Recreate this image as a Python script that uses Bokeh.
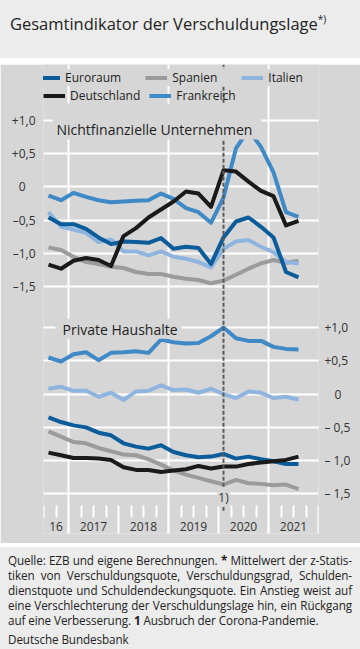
from bokeh.plotting import figure
from bokeh.models import (Range1d, LinearAxis, FixedTicker, Grid, Legend, LegendItem,
                          Label, Div)
from bokeh.layouts import column
from bokeh.embed import file_html
from bokeh.resources import INLINE

# ---------------- data ----------------
quarters = ["2016-Q3", "2016-Q4",
            "2017-Q1", "2017-Q2", "2017-Q3", "2017-Q4",
            "2018-Q1", "2018-Q2", "2018-Q3", "2018-Q4",
            "2019-Q1", "2019-Q2", "2019-Q3", "2019-Q4",
            "2020-Q1", "2020-Q2", "2020-Q3", "2020-Q4",
            "2021-Q1", "2021-Q2", "2021-Q3"]

# Nichtfinanzielle Unternehmen
nfc_euroraum = [-0.46, -0.56, -0.56, -0.63, -0.76, -0.86, -0.82, -0.83, -0.84, -0.77, -0.93,
                -0.90, -0.92, -1.16, -0.76, -0.52, -0.46, -0.60, -0.76, -1.28, -1.36]
nfc_deutschland = [-1.17, -1.23, -1.11, -1.07, -1.10, -1.19, -0.74, -0.62, -0.46, -0.34, -0.22,
                   -0.07, -0.10, -0.30, 0.25, 0.23, 0.08, -0.06, -0.14, -0.58, -0.51]
nfc_spanien = [-0.91, -0.95, -1.05, -1.13, -1.16, -1.20, -1.22, -1.28, -1.31, -1.31, -1.35,
               -1.38, -1.40, -1.45, -1.41, -1.32, -1.23, -1.15, -1.10, -1.14, -1.11]
nfc_frankreich = [-0.13, -0.20, -0.09, -0.15, -0.20, -0.23, -0.22, -0.21, -0.20, -0.10, -0.18,
                  -0.32, -0.38, -0.54, -0.16, 0.58, 0.86, 0.60, 0.22, -0.38, -0.45]
nfc_italien = [-0.38, -0.60, -0.64, -0.69, -0.83, -0.79, -0.97, -0.97, -1.03, -0.97, -1.05,
               -1.08, -1.13, -1.21, -0.93, -0.82, -0.80, -0.90, -0.98, -1.13, -1.15]

# Private Haushalte
hh_euroraum = [-0.35, -0.42, -0.47, -0.50, -0.58, -0.62, -0.74, -0.79, -0.82, -0.77, -0.87,
               -0.92, -0.95, -0.94, -0.90, -0.97, -0.94, -0.98, -1.01, -1.05, -1.05]
hh_deutschland = [-0.88, -0.92, -0.96, -0.96, -0.97, -0.99, -1.10, -1.14, -1.14, -1.17, -1.15,
                  -1.13, -1.08, -1.12, -1.09, -1.09, -1.05, -1.03, -1.01, -0.99, -0.94]
hh_spanien = [-0.56, -0.64, -0.72, -0.74, -0.81, -0.86, -0.91, -0.92, -0.98, -1.06, -1.15,
              -1.21, -1.26, -1.31, -1.36, -1.29, -1.34, -1.35, -1.37, -1.36, -1.43]
hh_frankreich = [0.55, 0.49, 0.60, 0.63, 0.51, 0.62, 0.63, 0.645, 0.62, 0.82, 0.78,
                 0.76, 0.77, 0.87, 1.00, 0.84, 0.80, 0.80, 0.71, 0.68, 0.67]
hh_italien = [0.08, 0.11, 0.05, 0.05, -0.04, 0.02, -0.09, 0.04, 0.05, 0.13, 0.06,
              0.07, 0.02, 0.08, 0.00, -0.06, 0.04, 0.02, -0.06, -0.04, -0.08]

pandemic_quarter = "2020-Q1"

year_labels = ["16", "2017", "2018", "2019", "2020", "2021"]
year_starts = [2016, 2017, 2018, 2019, 2020, 2021]
y_ticks = [-1.5, -1.0, -0.5, 0.0, 0.5, 1.0]
y_labels_left = ["\u20131,5", "\u20131,0", "\u20130,5", "0\u2007\u2008", "+0,5", "+1,0"]
y_labels_right = ["\u2013 1,5", "\u2013 1,0", "\u2013 0,5", "\u2007\u20080", "+0,5", "+1,0"]

# ---------------- styling / layout constants ----------------
FONT = "Open Sans"
CHART_BG = "#d6d6d6"
LIGHT_BG = "#ececec"
TEXT = "#222222"
C_EURO = "#0a5c9a"
C_DE = "#1a1a1a"
C_ES = "#9b9b9b"
C_FR = "#3f89c6"
C_IT = "#8fb5de"

W = 360
H = 479
B_LEFT, B_RIGHT, B_TOP, B_BOTTOM = 43, 42, 0, 10
FRAME_H = H - B_TOP - B_BOTTOM
PX_PER_UNIT = 66.5
X_START, X_END = 2016.5, 2022.0
PX_PER_YEAR = 50.0
# pixel of value 0 for each panel, measured from frame top
ZERO_TOP = 122.4
ZERO_BOT = 329.6


def rng(zero_px):
    return Range1d(-(FRAME_H - zero_px) / PX_PER_UNIT, zero_px / PX_PER_UNIT)


def qx(q):
    y, n = q.split("-Q")
    return int(y) + (int(n) - 1) * 0.25 + 0.1


xs = [qx(q) for q in quarters]
xp = qx(pandemic_quarter)

p = figure(width=W, height=H, x_range=Range1d(X_START, X_END), y_range=rng(ZERO_TOP),
           x_axis_type=None, y_axis_type=None, output_backend="svg", toolbar_location=None,
           min_border_left=B_LEFT, min_border_right=B_RIGHT, min_border_top=B_TOP,
           min_border_bottom=B_BOTTOM)
p.extra_y_ranges = {"bottom": rng(ZERO_BOT)}
p.background_fill_color = CHART_BG
p.border_fill_color = CHART_BG
p.outline_line_color = None

# grids
grid_kw = dict(grid_line_color="white", grid_line_width=2)
p.add_layout(Grid(dimension=0, ticker=FixedTicker(ticks=year_starts[1::2]), **grid_kw))
p.add_layout(Grid(dimension=1, ticker=FixedTicker(ticks=y_ticks), **grid_kw))
p.add_layout(Grid(dimension=1, ticker=FixedTicker(ticks=y_ticks), y_range_name="bottom", **grid_kw))

# axis strip position (bottom-panel units): 441 px below frame top
AXIS_POS = -(441 - ZERO_BOT) / PX_PER_UNIT

# lines
series = [("Spanien", C_ES, nfc_spanien, hh_spanien),
          ("Italien", C_IT, nfc_italien, hh_italien),
          ("Frankreich", C_FR, nfc_frankreich, hh_frankreich),
          ("Euroraum", C_EURO, nfc_euroraum, hh_euroraum),
          ("Deutschland", C_DE, nfc_deutschland, hh_deutschland)]
rend = {}
for name, col, top, bot in series:
    r = p.line(xs, top, line_color=col, line_width=4, line_join="round")
    p.line(xs, bot, line_color=col, line_width=4, line_join="round", y_range_name="bottom")
    rend[name] = r

# pandemic marker
p.segment(x0=[xp], x1=[xp], y0=[AXIS_POS - 0.08], y1=[rng(ZERO_BOT).end],
          y_range_name="bottom", line_color="#5a5a5a", line_width=2, line_dash="4 2")
p.add_layout(Label(x=xp, y=AXIS_POS + 0.12, y_range_name="bottom", text="1)",
                   text_font=FONT, text_font_size="12px", text_color="#333333",
                   text_align="center", text_baseline="middle",
                   background_fill_color=CHART_BG, padding=1))

# y axes
ax_kw = dict(axis_line_color=None, major_tick_line_color=None, minor_tick_line_color=None,
             major_tick_in=0, major_tick_out=0, minor_tick_in=0, minor_tick_out=0,
             major_label_text_font=FONT, major_label_text_font_size="12px",
             major_label_text_color="#333333")
yl = LinearAxis(ticker=FixedTicker(ticks=y_ticks), major_label_standoff=8,
                major_label_overrides=dict(zip(y_ticks, y_labels_left)), **ax_kw)
p.add_layout(yl, "left")
yr = LinearAxis(y_range_name="bottom", ticker=FixedTicker(ticks=y_ticks), major_label_standoff=6,
                major_label_overrides=dict(zip(y_ticks, y_labels_right)), **ax_kw)
p.add_layout(yr, "right")

# x axis strip: quarter ticks, year-boundary ticks, year labels (three fixed-location axes)
quarter_ticks = [y + k * 0.25 for y in year_starts for k in (1, 2, 3) if y + k * 0.25 >= X_START]
year_bounds = [y + 1 for y in year_starts]
tick_kw = dict(fixed_location=AXIS_POS, y_range_name="bottom", axis_line_color=None,
               major_tick_line_color=None, major_tick_in=0, major_tick_out=0,
               minor_tick_line_color="white", minor_tick_line_width=2, minor_tick_in=0)
p.add_layout(LinearAxis(ticker=FixedTicker(ticks=[], minor_ticks=quarter_ticks),
                        minor_tick_out=12, **tick_kw), "below")
p.add_layout(LinearAxis(ticker=FixedTicker(ticks=[], minor_ticks=year_bounds),
                        minor_tick_out=28, **tick_kw), "below")
label_pos = [(max(y, X_START) + min(y + 1, X_END)) / 2 for y in year_starts]
xl = LinearAxis(ticker=FixedTicker(ticks=label_pos), fixed_location=AXIS_POS, y_range_name="bottom",
                major_label_overrides=dict(zip(label_pos, year_labels)), major_label_standoff=16,
                **ax_kw)
p.add_layout(xl, "below")

# panel titles
TITLE_Y = (ZERO_TOP - 57) / PX_PER_UNIT
p.add_layout(Label(x=X_START + 9 / PX_PER_YEAR, y=TITLE_Y, text="Nichtfinanzielle Unternehmen",
                   text_font=FONT, text_font_size="14px", text_color=TEXT,
                   text_baseline="alphabetic", background_fill_color=CHART_BG,
                   padding=dict(left=4, right=9, top=16, bottom=1)))
p.add_layout(Label(x=X_START + 12 / PX_PER_YEAR, y=TITLE_Y, y_range_name="bottom", text="Private Haushalte",
                   text_font=FONT, text_font_size="14px", text_color=TEXT,
                   text_baseline="alphabetic", background_fill_color=CHART_BG,
                   padding=dict(left=7, right=4, top=1, bottom=0)))

# legends (two rows, inside the frame top)
leg_kw = dict(orientation="horizontal", glyph_width=22, glyph_height=5, label_standoff=5,
              margin=0, border_line_color=None,
              label_text_font=FONT, label_text_font_size="12px", label_text_color=TEXT,
              label_height=14)
leg1 = Legend(items=[LegendItem(label=n, renderers=[rend[n]]) for n in ["Euroraum", "Spanien", "Italien"]],
              location=(-5, FRAME_H - 22), spacing=24, padding=5,
              background_fill_color=CHART_BG, background_fill_alpha=1.0, **leg_kw)
leg2 = Legend(items=[LegendItem(label=n, renderers=[rend[n]]) for n in ["Deutschland", "Frankreich"]],
              location=(0, FRAME_H - 40), spacing=9, padding=0, background_fill_alpha=0, **leg_kw)
p.add_layout(leg1)
p.add_layout(leg2)

# title and footer
title = Div(text=('<div style="font-family:\'Open Sans\';font-size:16.5px;line-height:20px;'
                  'color:#222;padding:9px 0 0 10px;margin:0;white-space:nowrap;">'
                  'Gesamtindikator der Verschuldungslage<sup style="font-size:10px;">*)</sup></div>'),
            width=W, height=58, styles={"background-color": LIGHT_BG}, margin=(0, 0, 6, 0))

ln = "display:block;margin:0;padding:0;line-height:15px;height:15px;white-space:nowrap;"
just = f'style="{ln}text-align:justify;text-align-last:justify;"'
footer_html = (
    '<div style="display:block;width:344px;font-family:\'Open Sans\';font-size:11.7px;'
    'letter-spacing:-0.1px;line-height:15px;color:#222;margin:0 8px;padding:0;">'
    '<div style="display:block;height:6px;"></div>'
    f'<div {just}>Quelle: EZB und eigene Berechnungen. <b>*</b> Mittelwert der z-Statis-</div>'
    f'<div {just}>tiken von Verschuldungsquote, Verschuldungsgrad, Schulden-</div>'
    f'<div {just}>dienstquote und Schuldendeckungsquote. Ein Anstieg weist auf</div>'
    f'<div {just}>eine Verschlechterung der Verschuldungslage hin, ein Rückgang</div>'
    f'<div style="{ln}">auf eine Verbesserung. <b>1</b> Ausbruch der Corona-Pandemie.</div>'
    f'<div style="{ln}margin-top:4px;">Deutsche Bundesbank</div>'
    '</div>')
footer = Div(text=footer_html, width=W, height=102,
             styles={"background-color": LIGHT_BG, "overflow": "hidden"}, margin=(4, 0, 0, 0))

layout = column(title, p, footer, spacing=0)
open("out.html", "w").write(file_html(layout, INLINE))
